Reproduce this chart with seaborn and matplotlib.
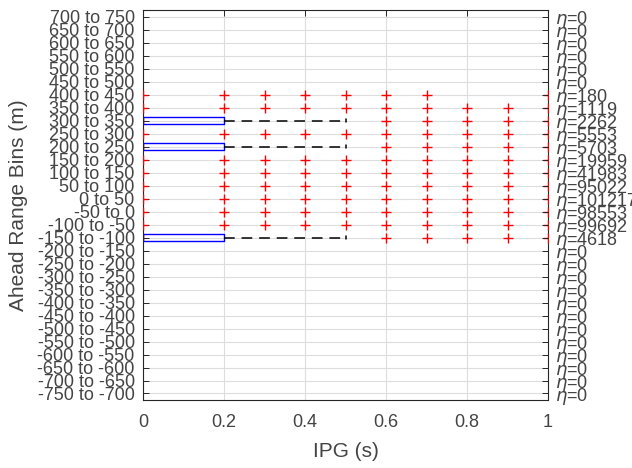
import matplotlib
matplotlib.use("Agg")
import matplotlib.pyplot as plt
import seaborn as sns
import pandas as pd

categories = [
    "700 to 750", "650 to 700", "600 to 650", "550 to 600", "500 to 550",
    "450 to 500", "400 to 450", "350 to 400", "300 to 350", "250 to 300",
    "200 to 250", "150 to 200", "100 to 150", "50 to 100", "0 to 50",
    "-50 to 0", "-100 to -50", "-150 to -100", "-200 to -150", "-250 to -200",
    "-300 to -250", "-350 to -300", "-400 to -350", "-450 to -400", "-500 to -450",
    "-550 to -500", "-600 to -550", "-650 to -600", "-700 to -650", "-750 to -700",
]
counts = [0, 0, 0, 0, 0, 0, 180, 1119, 2262, 5553, 5703, 19959, 41983, 95022,
          101217, 98553, 99692, 4618, 0, 0, 0, 0, 0, 0, 0, 0, 0, 0, 0, 0]

# outlier IPG values (s) per range bin
outliers = {
    "400 to 450": [0, 0.2, 0.3, 0.4, 0.5, 0.6, 0.7, 1.0],
    "350 to 400": [0, 0.2, 0.3, 0.4, 0.5, 0.6, 0.7, 0.8, 0.9, 1.0],
    "300 to 350": [0.6, 0.7, 0.8, 0.9, 1.0],
    "250 to 300": [0, 0.2, 0.3, 0.4, 0.5, 0.6, 0.7, 0.8, 0.9, 1.0],
    "200 to 250": [0.6, 0.7, 0.8, 0.9, 1.0],
    "150 to 200": [0, 0.2, 0.3, 0.4, 0.5, 0.6, 0.7, 0.8, 0.9, 1.0],
    "100 to 150": [0, 0.2, 0.3, 0.4, 0.5, 0.6, 0.7, 0.8, 0.9, 1.0],
    "50 to 100": [0, 0.2, 0.3, 0.4, 0.5, 0.6, 0.7, 0.8, 0.9, 1.0],
    "0 to 50": [0, 0.2, 0.3, 0.4, 0.5, 0.6, 0.7, 0.8, 0.9, 1.0],
    "-50 to 0": [0, 0.2, 0.3, 0.4, 0.5, 0.6, 0.7, 0.8, 0.9, 1.0],
    "-100 to -50": [0, 0.2, 0.3, 0.4, 0.5, 0.6, 0.7, 0.8, 0.9, 1.0],
    "-150 to -100": [0.6, 0.7, 0.8, 0.9, 1.0],
}

# box statistics for bins with a visible box
box_bins = ["300 to 350", "200 to 250", "-150 to -100"]
box_q1 = [0.0, 0.0, 0.0]
box_med = [0.0, 0.0, 0.0]
box_q3 = [0.2, 0.2, 0.2]
box_wlo = [0.0, 0.0, 0.0]
box_whi = [0.5, 0.5, 0.5]

x_ticks = [0, 0.2, 0.4, 0.6, 0.8, 1]

sns.set_style("white")
plt.rcParams["font.family"] = ["Liberation Sans", "DejaVu Sans"]
plt.rcParams["mathtext.fontset"] = "dejavusans"
txt = "#444444"

fig = plt.figure(figsize=(6.32, 4.68), dpi=100)
ax = fig.add_axes([0.2263, 0.1453, 0.8671 - 0.2263, 0.9786 - 0.1453])

rows = []
for b, xs in outliers.items():
    for v in xs:
        rows.append({"bin": b, "ipg": v})
df = pd.DataFrame(rows)
pos = {c: i for i, c in enumerate(categories)}
df["y"] = df["bin"].map(pos)

sns.scatterplot(data=df, x="ipg", y="y", ax=ax, marker="+", color="red",
                s=45, linewidth=1.0, zorder=4, legend=False)

stats = []
for i in range(len(box_bins)):
    stats.append({"q1": box_q1[i], "med": box_med[i], "q3": box_q3[i],
                  "whislo": box_wlo[i], "whishi": box_whi[i], "fliers": []})
ax.bxp(stats, positions=[pos[b] for b in box_bins], vert=False, widths=0.5,
       capwidths=0.25, showfliers=False, patch_artist=False,
       boxprops=dict(color="blue", linewidth=1.0),
       whiskerprops=dict(color="black", linestyle=(0, (7, 4.5)), linewidth=1.1),
       capprops=dict(color="black", linewidth=1.1),
       medianprops=dict(color="red", linewidth=1.0), manage_ticks=False)

ax.set_xlim(0, 1)
ax.set_ylim(len(categories) - 0.5, -0.5)
ax.set_xticks(x_ticks)
ax.set_xticklabels(["0", "0.2", "0.4", "0.6", "0.8", "1"])
ax.set_yticks(range(len(categories)))
ax.set_yticklabels(categories)
ax.grid(True, color="#dddddd", linewidth=0.8)
ax.set_axisbelow(True)
for s in ax.spines.values():
    s.set_visible(True)
    s.set_color("#262626")
    s.set_linewidth(0.8)
ax.tick_params(axis="both", direction="in", length=4, width=0.7, colors="#262626",
               labelcolor=txt, labelsize=13)
ax.tick_params(axis="y", pad=6)
ax.tick_params(axis="x", pad=10, top=True)
ax.set_xlabel("IPG (s)", fontsize=15, color=txt, labelpad=8)
ax.set_ylabel("Ahead Range Bins (m)", fontsize=15, color=txt, labelpad=6.5)

ax2 = ax.twinx()
ax2.set_ylim(ax.get_ylim())
ax2.set_yticks(range(len(categories)))
ax2.set_yticklabels([r"$\eta$=" + str(c) for c in counts])
ax2.tick_params(axis="y", direction="in", length=4, width=0.7, colors="#262626",
                labelcolor=txt, labelsize=13, pad=5)
for s in ax2.spines.values():
    s.set_visible(False)

fig.savefig("out.png", dpi=100)
